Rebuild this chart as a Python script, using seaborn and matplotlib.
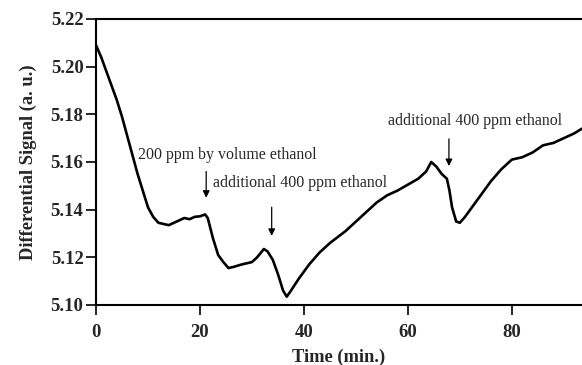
import matplotlib
matplotlib.use("Agg")
import matplotlib.pyplot as plt
import seaborn as sns
import pandas as pd

time_min = [0, 1, 2, 3, 4, 5, 6, 7, 8, 9, 10, 11, 12, 13, 14, 15, 16, 17, 18, 19, 20, 21,
            21.5, 22.5, 23.5, 24.5, 25.5, 26.5, 28, 30, 31, 32.3, 33, 34, 35, 36, 36.7, 37.5,
            39, 41, 43, 45, 48, 51, 54, 56, 58, 60, 62, 63.5, 64.5, 65.5, 66.5, 67.5, 68,
            68.5, 69.3, 70, 71, 72, 74, 76, 78, 80, 82, 84, 86, 88, 90, 92, 93.5]
signal = [5.209, 5.204, 5.198, 5.192, 5.186, 5.179, 5.171, 5.163, 5.155, 5.148, 5.141,
          5.137, 5.1345, 5.134, 5.1335, 5.1345, 5.1355, 5.1365, 5.136, 5.137, 5.1372, 5.138,
          5.1365, 5.128, 5.121, 5.118, 5.1155, 5.116, 5.117, 5.118, 5.120, 5.1235, 5.1225,
          5.119, 5.113, 5.106, 5.1035, 5.106, 5.111, 5.117, 5.122, 5.126, 5.131, 5.137,
          5.143, 5.146, 5.148, 5.1505, 5.153, 5.156, 5.160, 5.158, 5.155, 5.153, 5.148,
          5.141, 5.135, 5.1345, 5.137, 5.140, 5.146, 5.152, 5.157, 5.161, 5.162, 5.164,
          5.167, 5.168, 5.170, 5.172, 5.174]

x_ticks = [0, 20, 40, 60, 80]
y_ticks = [5.10, 5.12, 5.14, 5.16, 5.18, 5.20, 5.22]
y_tick_labels = ["5.10", "5.12", "5.14", "5.16", "5.18", "5.20", "5.22"]

notes = ["200 ppm by volume ethanol", "additional 400 ppm ethanol", "additional 400 ppm ethanol"]
arrow_x = [21.2, 33.8, 67.9]

sns.set_theme(style="ticks")
plt.rcParams['font.family'] = ['Liberation Serif', 'DejaVu Serif']

fig = plt.figure(figsize=(5.82, 3.65), dpi=100)
ax = fig.add_axes([96/582, 1-305/365, 1-96/582, (305-19)/365])

df = pd.DataFrame({"Time": time_min, "Signal": signal})
sns.lineplot(data=df, x="Time", y="Signal", ax=ax, color="black", linewidth=1.9)

ax.set_xlim(0, 93.5)
ax.set_ylim(5.10, 5.22)
ax.set_xticks(x_ticks)
ax.set_yticks(y_ticks)
ax.set_yticklabels(y_tick_labels)
ax.set_xlabel("Time (min.)", fontsize=13.3, fontweight="bold", labelpad=5)
ax.set_ylabel("Differential Signal (a. u.)", fontsize=13.3, fontweight="bold", labelpad=10)
for lab in ax.get_xticklabels() + ax.get_yticklabels():
    lab.set_fontweight("bold")
    lab.set_fontsize(13.5)
ax.tick_params(direction="out", length=7, width=1.2, color="black")
ax.tick_params(axis="x", pad=7)
ax.tick_params(axis="y", pad=2)
for s in ["left", "bottom", "top"]:
    ax.spines[s].set_linewidth(1.5)
    ax.spines[s].set_color("black")
ax.spines["right"].set_visible(False)

ax.text(8.1, 5.163, notes[0], fontsize=11.4, va="center", ha="left")
ax.text(22.5, 5.151, notes[1], fontsize=11.4, va="center", ha="left")
ax.text(73.0, 5.177, notes[2], fontsize=11.4, va="center", ha="center")

arrow_top = [5.156, 5.141, 5.1697]
arrow_bot = [5.145, 5.129, 5.1583]
for xa, yt, yb in zip(arrow_x, arrow_top, arrow_bot):
    ax.annotate("", xy=(xa, yb), xytext=(xa, yt),
                arrowprops=dict(arrowstyle="-|>", color="black", lw=0.9,
                                mutation_scale=10, shrinkA=0, shrinkB=0))

fig.savefig("out.png", dpi=100)
